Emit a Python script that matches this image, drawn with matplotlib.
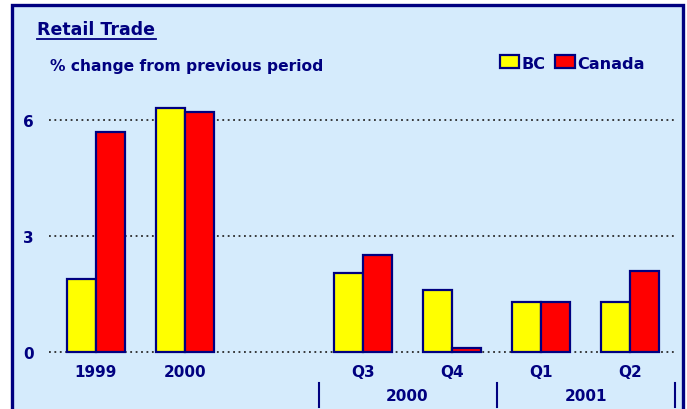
import matplotlib
matplotlib.use("Agg")
import matplotlib.pyplot as plt
import matplotlib.transforms as mtransforms
from matplotlib.lines import Line2D
from matplotlib.patches import Rectangle

categories = ["1999", "2000", "Q3", "Q4", "Q1", "Q2"]
positions = [0, 1, 3, 4, 5, 6]
bc = [1.9, 6.3, 2.05, 1.6, 1.3, 1.3]
canada = [5.7, 6.2, 2.5, 0.1, 1.3, 2.1]
group_labels = ["2000", "2001"]
group_centers = [3.5, 5.5]
separators = [2.5, 4.5, 6.5]
yticks = [0, 3, 6]

NAVY = "#000080"
BG = "#D5EBFC"
plt.rcParams["font.family"] = ["DejaVu Sans"]
plt.rcParams["font.weight"] = "bold"

W, H = 687, 410
fig = plt.figure(figsize=(W / 100, H / 100), dpi=100)
fig.patch.set_facecolor("white")

# framed panel
panel = Rectangle((12 / W, -0.05), (683 - 12) / W, 1 - 6 / H + 0.05,
                  transform=fig.transFigure, facecolor=BG,
                  edgecolor=NAVY, linewidth=2.4, zorder=-5)
fig.add_artist(panel)

def fx(px):
    return px / W

def fy(py):
    return 1 - py / H

x0, x1 = 49, 676
ppu = 38.67
zero_px = 353
ymin, ymax = -0.5, 6.6
ax = fig.add_axes([fx(x0), fy(zero_px - ymin * ppu), (x1 - x0) / W, (ymax - ymin) * ppu / H])
ax.set_zorder(2)
ax.set_facecolor("none")
ax.set_xlim((x0 - 96) / 89, (x1 - 96) / 89)
ax.set_ylim(ymin, ymax)
for s in ax.spines.values():
    s.set_visible(False)

for y in yticks:
    ax.axhline(y, color="#2a2a2a", linestyle=(0, (1, 2)), linewidth=1.3, zorder=1)

bw = 0.325
bcx = [p - bw / 2 for p in positions]
cax = [p + bw / 2 for p in positions]
b1 = ax.bar(bcx, bc, width=bw, color="#FFFF00", edgecolor=NAVY, linewidth=1.6, zorder=3, label="BC")
b2 = ax.bar(cax, canada, width=bw, color="#FF0000", edgecolor=NAVY, linewidth=1.6, zorder=3, label="Canada")

ax.set_yticks(yticks)
ax.set_yticklabels([str(v) for v in yticks], fontsize=11, fontweight="bold", color=NAVY)
ax.tick_params(axis="y", length=0, pad=11)
ax.set_xticks([])

trans = mtransforms.blended_transform_factory(ax.transData, fig.transFigure)
for p, c in zip(positions, categories):
    ax.text(p, fy(373), c, transform=trans, ha="center", va="center",
            fontsize=11, fontweight="bold", color=NAVY)
for p, g in zip(group_centers, group_labels):
    ax.text(p, fy(397), g, transform=trans, ha="center", va="center",
            fontsize=11, fontweight="bold", color=NAVY)
for s in separators:
    ax.add_line(Line2D([s, s], [fy(408), fy(384)], transform=trans, color=NAVY,
                       linewidth=1.5, clip_on=False))

fig.text(fx(37), fy(30), "Retail Trade", fontsize=12.5, fontweight="bold", color=NAVY,
         ha="left", va="center")
fig.add_artist(Line2D([fx(37), fx(156)], [fy(40), fy(40)], color=NAVY, linewidth=1.3))
fig.text(fx(50), fy(67), "% change from previous period", fontsize=11.2, fontweight="bold",
         color=NAVY, ha="left", va="center")

leg = fig.legend(handles=[b1, b2], labels=["BC", "Canada"], ncol=2, frameon=False,
                 loc="center left", bbox_to_anchor=(fx(500), fy(64)), borderpad=0,
                 borderaxespad=0, handlelength=1.2, handleheight=0.85, handletextpad=0.15,
                 columnspacing=0.6, prop={"size": 11.6, "weight": "bold"})
for t in leg.get_texts():
    t.set_color(NAVY)

fig.savefig("out.png", dpi=100, facecolor="white")
